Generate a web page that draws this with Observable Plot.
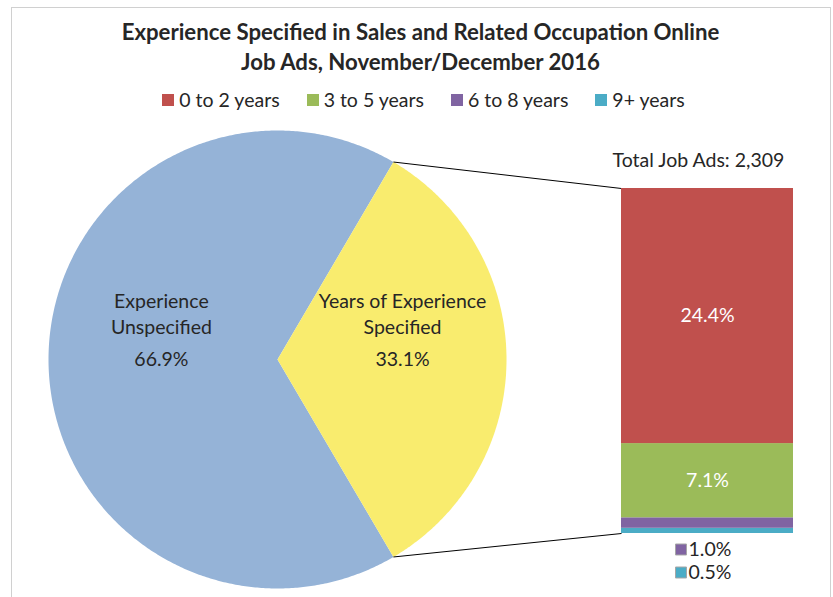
<!DOCTYPE html>
<html><head><meta charset="utf-8">
<script src="https://cdn.jsdelivr.net/npm/d3@7"></script>
<script src="https://cdn.jsdelivr.net/npm/@observablehq/plot@0.6"></script>
<style>
body{margin:0;background:#fff;}
#wrap{position:relative;width:833px;height:597px;overflow:hidden;font-family:Lato,"Open Sans",sans-serif;color:#262626;}
#frame{position:absolute;left:11px;top:7px;width:820px;height:640px;border:1.5px solid #d0d0d0;box-sizing:border-box;}
#title{position:absolute;left:11px;width:819px;top:17px;text-align:center;font-weight:bold;line-height:30px;white-space:nowrap;}
#legend{position:absolute;left:14px;width:819px;top:89px;height:22px;display:flex;justify-content:center;gap:27px;line-height:22px;}
.item{display:flex;align-items:center;}
.sw{width:12px;height:12px;margin-right:5px;}
.layer{position:absolute;left:0;top:120px;}
</style></head>
<body>
<div id="wrap">
  <div id="frame"></div>
  <div id="title"></div>
  <div id="legend"></div>
  <div class="layer" id="pie"></div>
  <div class="layer" id="bar"></div>
</div>
<script>
// ---- data ----
const titleLines = ["Experience Specified in Sales and Related Occupation Online", "Job Ads, November/December 2016"];
const pieLabels = ["Experience\nUnspecified", "Years of Experience\nSpecified"];
const pieValues = [66.9, 33.1];
const pieColors = ["#95b3d7", "#f9ec6e"];
const barCategories = ["0 to 2 years", "3 to 5 years", "6 to 8 years", "9+ years"];
const barValues = [24.4, 7.1, 1.0, 0.5];
const barColors = ["#c0504d", "#9bbb59", "#8064a2", "#4bacc6"];
const totalLabel = "Total Job Ads: 2,309";

const FONT = "Lato, 'Open Sans', sans-serif";
const W = 833, H = 477;
const TEXT = "#262626";

// font sizes fitted to the reference's text widths
const cv = document.createElement("canvas").getContext("2d");
function fit(text, weight, target) {
  cv.font = `${weight} 100px Lato`;
  return +(100 * target / cv.measureText(text).width).toFixed(2);
}
const titleSize = fit(titleLines[0], "bold", 598);
const bodySize = fit(totalLabel, "normal", 173);

// ---- title & legend ----
const titleEl = document.getElementById("title");
titleEl.innerHTML = titleLines.join("<br>");
titleEl.style.fontSize = titleSize + "px";
const leg = d3.select("#legend").style("font-size", bodySize + "px");
barCategories.forEach((c, i) => {
  const it = leg.append("div").attr("class", "item");
  it.append("div").attr("class", "sw").style("background", barColors[i]);
  it.append("span").text(c);
});

function applyScale(s, v) {
  if (s.apply) return s.apply(v);
  if (s.type === "band" || s.type === "point") return s.range[0];
  const [d0, d1] = s.domain, [r0, r1] = s.range;
  return r0 + (v - d0) / (d1 - d0) * (r1 - r0);
}
function invertScale(s, p) {
  if (s.invert) return s.invert(p);
  const [d0, d1] = s.domain, [r0, r1] = s.range;
  return d0 + (p - r0) / (r1 - r0) * (d1 - d0);
}

// ---- bar (breakdown of the "specified" slice) ----
const barTotal = d3.sum(barValues);
let acc = 0;
const barRows = barCategories.map((c, i) => ({category: c, value: barValues[i], color: barColors[i]})).reverse()
  .map(d => { const r = {...d, y1: acc, y2: acc + d.value}; acc += d.value; return r; });
const inside = barRows.filter(d => d.value >= 2);
const outside = barRows.filter(d => d.value < 2).reverse();

const barMarks = [
  Plot.rectY(barRows, {x: () => "Total", y1: "y1", y2: "y2", fill: "color"}),
  Plot.text(inside, {x: () => "Total", y: d => (d.y1 + d.y2) / 2, text: d => d.value.toFixed(1) + "%", fill: "white", fontSize: bodySize}),
  Plot.text([totalLabel], {x: () => "Total", y: () => barTotal, text: d => d, dy: -28, dx: -9, fill: TEXT, fontSize: bodySize})
];
outside.forEach((d, i) => {
  barMarks.push(Plot.dot([d], {x: () => "Total", y: () => 0, dx: -26.5, dy: 16 + 23 * i, symbol: "square", r: 6.2, fill: "color", stroke: "#a6a6a6", strokeWidth: 1}));
  barMarks.push(Plot.text([d], {x: () => "Total", y: () => 0, dx: -19, dy: 16 + 23 * i, text: d => d.value.toFixed(1) + "%", textAnchor: "start", fill: TEXT, fontSize: bodySize}));
});

const barPlot = Plot.plot({
  width: W, height: H,
  marginLeft: 621, marginRight: 40, marginTop: 68, marginBottom: 64,
  style: {background: "transparent", fontFamily: FONT, color: TEXT},
  x: {type: "band", domain: ["Total"], padding: 0, axis: null},
  y: {domain: [0, barTotal], axis: null},
  marks: barMarks
});
document.getElementById("bar").appendChild(barPlot);

// ---- pie ----
const pieX = {domain: [-1, 1], range: [48, 506]};
const pieY = {domain: [-1, 1], range: [468, 10]};
const pxS = Plot.scale ? Plot.scale({x: pieX}) : {...pieX, type: "linear"};
const pyS = Plot.scale ? Plot.scale({y: pieY}) : {...pieY, type: "linear"};
const total = d3.sum(pieValues);
const half = pieValues[1] / total * Math.PI; // yellow slice centred on 0 rad
const spans = [[half, 2 * Math.PI - half], [-half, half]];
const piePts = [];
spans.forEach(([a0, a1], k) => {
  piePts.push({slice: k, x: 0, y: 0});
  const n = Math.ceil((a1 - a0) / (Math.PI / 360));
  for (let j = 0; j <= n; j++) {
    const a = a0 + (a1 - a0) * j / n;
    piePts.push({slice: k, x: Math.cos(a), y: Math.sin(a)});
  }
});
const mids = spans.map(([a0, a1]) => (a0 + a1) / 2);
const labelRadius = [0.507, 0.546];
const pieLab = pieValues.map((v, k) => ({
  name: pieLabels[k], pct: v.toFixed(1) + "%",
  x: labelRadius[k] * Math.cos(mids[k]), y: labelRadius[k] * Math.sin(mids[k])
}));

// connector lines: pie slice edges to the bar's left corners
const bxS = barPlot.scale("x"), byS = barPlot.scale("y");
const barLeft = invertScale(pxS, applyScale(bxS, "Total"));
const links = [
  {x1: Math.cos(half), y1: Math.sin(half), x2: barLeft, y2: invertScale(pyS, applyScale(byS, barTotal))},
  {x1: Math.cos(half), y1: -Math.sin(half), x2: barLeft, y2: invertScale(pyS, applyScale(byS, 0))}
];

const piePlot = Plot.plot({
  width: W, height: H,
  margin: 0,
  style: {background: "transparent", fontFamily: FONT, color: TEXT},
  x: {...pieX, axis: null},
  y: {...pieY, axis: null},
  marks: [
    ...pieColors.map((c, k) => Plot.line(piePts.filter(d => d.slice === k), {x: "x", y: "y", curve: "linear-closed", fill: c, stroke: "none"})),
    Plot.link(links, {x1: "x1", y1: "y1", x2: "x2", y2: "y2", stroke: "#000", strokeWidth: 1}),
    Plot.text(pieLab, {x: "x", y: "y", text: "name", dy: -46.5, lineHeight: 26 / bodySize, fill: TEXT, fontSize: bodySize}),
    Plot.text(pieLab, {x: "x", y: "y", text: "pct", dy: 0, fill: TEXT, fontSize: bodySize})
  ]
});
document.getElementById("pie").appendChild(piePlot);
</script>
</body></html>
